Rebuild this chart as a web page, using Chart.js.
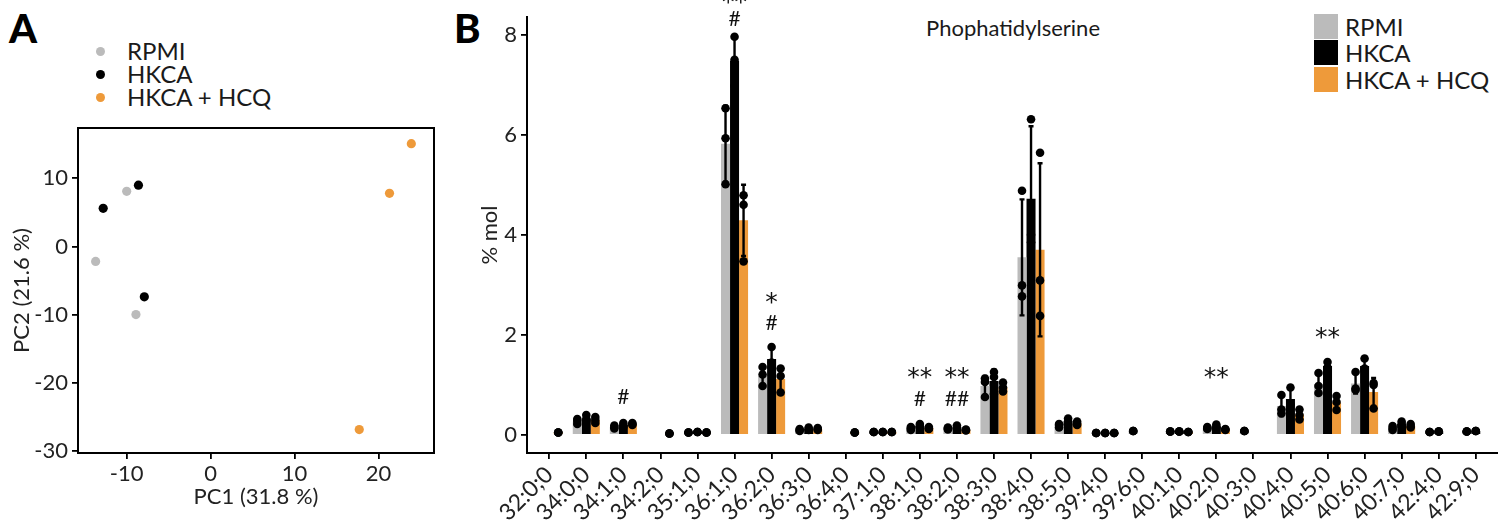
<!DOCTYPE html>
<html><head><meta charset="utf-8">
<script src="https://cdn.jsdelivr.net/npm/chart.js@4.4.0/dist/chart.umd.min.js"></script>
<style>
html,body{margin:0;padding:0}
body{width:1498px;height:522px;background:#fff;overflow:hidden;position:relative;font-family:Lato,"DejaVu Sans",sans-serif;color:#1a1a1a}
.abs{position:absolute}
.panel{font-weight:900;font-size:40px;line-height:40px;color:#000}
.leg{font-size:24px;line-height:24px;white-space:nowrap}
.dot{position:absolute;width:9px;height:9px;border-radius:50%}
.sq{position:absolute;width:24px;height:25px}
</style></head><body>
<div class="abs panel" style="left:9px;top:8px">A</div>
<div class="abs panel" style="left:454px;top:8px">B</div>

<div id="legA"></div>
<div id="legB"></div>
<div class="abs" id="titleB" style="left:913px;width:200px;top:16px;text-align:center;font-size:22px;line-height:24px">Phophatidylserine</div>

<div class="abs" style="left:0;top:0;width:450px;height:522px"><canvas id="pca" width="450" height="522"></canvas></div>
<div class="abs" style="left:450px;top:0;width:1048px;height:522px"><canvas id="bars" width="1048" height="522"></canvas></div>

<script>
// ---------- data ----------
const groups = ['RPMI', 'HKCA', 'HKCA + HCQ'];
const groupColors = ['#bbbbbb', '#000000', '#ee9a3a'];

// Panel A: PCA scores
const rpmiPC1 = [-10.0, -13.7, -8.9];
const rpmiPC2 = [8.1, -2.2, -10.0];
const hkcaPC1 = [-8.6, -12.8, -7.9];
const hkcaPC2 = [9.0, 5.6, -7.4];
const hcqPC1 = [23.9, 21.3, 17.7];
const hcqPC2 = [15.1, 7.8, -26.9];
const pc1Ticks = [-10, 0, 10, 20];
const pc2Ticks = [-30, -20, -10, 0, 10];

// Panel B: phosphatidylserine species (% mol)
const lipidClasses = ['32:0;0','34:0;0','34:1;0','34:2;0','35:1;0','36:1;0','36:2;0','36:3;0','36:4;0','37:1;0','38:1;0','38:2;0','38:3;0','38:4;0','38:5;0','39:4;0','39:6;0','40:1;0','40:2;0','40:3;0','40:4;0','40:5;0','40:6;0','40:7;0','42:4;0','42:9;0'];
const molTicks = [0, 2, 4, 6, 8];

const rpmiMean = [null,0.27,0.16,null,0.05,5.82,1.18,0.10,null,0.06,0.13,0.13,0.98,3.55,0.19,0.04,0.08,0.07,0.14,0.08,0.58,1.02,1.03,0.14,0.06,0.07];
const rpmiSd   = [null,0.05,0.03,null,0.005,0.76,0.19,0.02,null,0.005,0.03,0.02,0.20,1.16,0.03,0.005,0.005,0.005,0.02,0.005,0.20,0.20,0.20,0.04,0.005,0.005];
const rpmiPoints = [[],[0.22,0.28,0.32],[0.13,0.16,0.19],[],[0.05,0.05,0.05],[6.53,5.93,5.01],[1.36,1.21,0.98],[0.08,0.10,0.12],[],[0.06,0.06,0.06],[0.10,0.13,0.16],[0.11,0.13,0.15],[1.13,1.06,0.76],[4.88,2.99,2.77],[0.15,0.20,0.22],[0.04,0.04,0.04],[0.08,0.08,0.08],[0.07,0.07,0.07],[0.12,0.14,0.16],[0.08,0.08,0.08],[0.80,0.51,0.43],[1.24,0.98,0.84],[1.26,0.93,0.90],[0.10,0.14,0.18],[0.06,0.06,0.06],[0.07,0.07,0.07]];

const hkcaMean = [null,0.33,0.20,null,0.06,7.48,1.52,0.12,null,0.06,0.18,0.15,1.08,4.72,0.27,0.04,null,0.07,0.17,null,0.72,1.38,1.38,0.22,0.07,0.08];
const hkcaSd   = [null,0.06,0.04,null,0.005,0.49,0.21,0.02,null,0.005,0.035,0.035,0.23,1.45,0.06,0.005,null,0.005,0.035,null,0.20,0.07,0.13,0.045,0.005,0.005];
const hkcaPoints = [[],[0.28,0.32,0.40],[0.16,0.20,0.24],[],[0.06,0.06,0.06],[7.96,7.50,6.98],[1.76,1.45,1.35],[0.10,0.12,0.15],[],[0.06,0.06,0.06],[0.15,0.18,0.22],[0.12,0.15,0.19],[1.26,1.16,0.82],[6.31,4.00,3.85],[0.21,0.27,0.33],[0.04,0.04,0.04],[],[0.07,0.07,0.07],[0.14,0.17,0.21],[],[0.95,0.62,0.60],[1.46,1.35,1.33],[1.53,1.33,1.28],[0.18,0.22,0.27],[0.07,0.07,0.07],[0.08,0.08,0.08]];

const hcqMean = [0.05,0.30,0.22,0.03,0.05,4.29,1.12,0.12,0.05,0.06,0.14,0.10,0.95,3.70,0.23,0.04,null,0.06,0.11,null,0.41,0.65,0.86,0.18,null,null];
const hcqSd   = [0.005,0.06,0.02,0.005,0.005,0.71,0.24,0.02,0.005,0.005,0.02,0.01,0.09,1.73,0.035,0.005,null,0.005,0.01,null,0.10,0.14,0.28,0.035,null,null];
const hcqPoints = [[0.05,0.05,0.05],[0.24,0.30,0.36],[0.20,0.22,0.24],[0.03,0.03,0.03],[0.05,0.05,0.05],[4.79,4.60,3.47],[1.33,1.18,0.85],[0.10,0.12,0.14],[0.05,0.05,0.05],[0.06,0.06,0.06],[0.12,0.13,0.16],[0.09,0.10,0.11],[1.05,0.95,0.87],[5.64,3.09,2.38],[0.20,0.23,0.27],[0.04,0.04,0.04],[],[0.06,0.06,0.06],[0.10,0.11,0.12],[],[0.51,0.40,0.31],[0.78,0.66,0.50],[1.04,1.00,0.53],[0.15,0.18,0.22],[],[]];

// significance marks: category, text, level (% mol) at which the mark sits
const sigMarks = [
  ['34:1;0', '#', 0.76],
  ['36:1;0', '#', 8.33], ['36:1;0', '**', 8.73],
  ['36:2;0', '#', 2.25], ['36:2;0', '*', 2.73],
  ['38:1;0', '#', 0.72], ['38:1;0', '**', 1.235],
  ['38:2;0', '##', 0.72], ['38:2;0', '**', 1.235],
  ['40:2;0', '**', 1.235],
  ['40:5;0', '**', 2.03]
];

// ---------- HTML legends ----------
(function(){
  const a = document.getElementById('legA');
  const rowsA = [51, 74, 97];
  groups.forEach((g, i) => {
    const d = document.createElement('div'); d.className = 'dot';
    d.style.left = '95.5px'; d.style.top = (rowsA[i] - 4.5) + 'px'; d.style.background = groupColors[i];
    a.appendChild(d);
    const t = document.createElement('div'); t.className = 'abs leg';
    t.style.left = '127px'; t.style.top = (rowsA[i] - 12) + 'px'; t.textContent = g;
    a.appendChild(t);
  });
  const b = document.getElementById('legB');
  const rowsB = [14, 40, 67];
  groups.forEach((g, i) => {
    const s = document.createElement('div'); s.className = 'sq';
    s.style.left = '1314px'; s.style.top = rowsB[i] + 'px'; s.style.background = groupColors[i];
    b.appendChild(s);
    const t = document.createElement('div'); t.className = 'abs leg';
    t.style.left = '1345px'; t.style.top = (rowsB[i] + 0.5) + 'px'; t.textContent = g;
    b.appendChild(t);
  });
})();

// ---------- common ----------
const FONT = 'Lato';
const TXT = '#222222';
Chart.defaults.font.family = FONT;
Chart.defaults.color = TXT;
Chart.defaults.animation = false;

const frame = {
  id: 'frame',
  afterDraw(chart) {
    const {ctx, chartArea: a} = chart;
    ctx.save();
    ctx.strokeStyle = '#000'; ctx.lineWidth = 2;
    ctx.strokeRect(a.left, a.top, a.right - a.left, a.bottom - a.top);
    ctx.restore();
  }
};

function toXY(xs, ys) { return xs.map((x, i) => ({x, y: ys[i]})); }

new Chart(document.getElementById('pca'), {
  type: 'scatter',
  data: {
    datasets: [
      {label: groups[0], data: toXY(rpmiPC1, rpmiPC2), backgroundColor: groupColors[0]},
      {label: groups[1], data: toXY(hkcaPC1, hkcaPC2), backgroundColor: groupColors[1]},
      {label: groups[2], data: toXY(hcqPC1, hcqPC2), backgroundColor: groupColors[2]}
    ]
  },
  options: {
    responsive: false, devicePixelRatio: 1,
    layout: {padding: {top: 128, right: 16, left: 0, bottom: 0}},
    elements: {point: {radius: 4.6, borderWidth: 0, hoverRadius: 4.6}},
    plugins: {legend: {display: false}, tooltip: {enabled: false}},
    scales: {
      x: {
        type: 'linear', min: -15.8, max: 26.6,
        afterBuildTicks: s => { s.ticks = pc1Ticks.map(v => ({value: v})); },
        afterFit: s => { s.height = 69; },
        grid: {drawOnChartArea: false, drawTicks: true, tickLength: 6, color: '#000', lineWidth: 1.8},
        border: {display: true, color: '#000', width: 2},
        ticks: {font: {size: 22}, padding: 2, color: TXT, maxRotation: 0},
        title: {display: true, text: 'PC1 (31.8 %)', font: {size: 22}, color: TXT, padding: {top: 0, bottom: 12}}
      },
      y: {
        type: 'linear', min: -30.34, max: 17.4,
        afterBuildTicks: s => { s.ticks = pc2Ticks.map(v => ({value: v})); },
        afterFit: s => { s.width = 78; },
        grid: {drawOnChartArea: false, drawTicks: true, tickLength: 6, color: '#000', lineWidth: 1.8},
        border: {display: true, color: '#000', width: 2},
        ticks: {font: {size: 22}, padding: 4, color: TXT},
        title: {display: true, text: 'PC2 (21.6 %)', font: {size: 22}, color: TXT, padding: {top: 9, bottom: 0}}
      }
    }
  },
  plugins: [frame]
});

// ---------- panel B ----------
const means = [rpmiMean, hkcaMean, hcqMean];
const sds = [rpmiSd, hkcaSd, hcqSd];
const pts = [rpmiPoints, hkcaPoints, hcqPoints];

const overlay = {
  id: 'overlay',
  afterDatasetsDraw(chart) {
    const {ctx} = chart;
    const y = chart.scales.y;
    ctx.save();
    // error bars
    means.forEach((arr, di) => {
      const meta = chart.getDatasetMeta(di);
      arr.forEach((m, i) => {
        if (m == null) return;
        const bx = meta.data[i].x;
        const sd = sds[di][i] || 0;
        const yt = y.getPixelForValue(m + sd), yb = y.getPixelForValue(m - sd);
        ctx.strokeStyle = '#000'; ctx.lineWidth = 2.4;
        ctx.beginPath();
        ctx.moveTo(bx, yt); ctx.lineTo(bx, yb);
        ctx.moveTo(bx - 2.5, yt); ctx.lineTo(bx + 2.5, yt);
        ctx.moveTo(bx - 2.5, yb); ctx.lineTo(bx + 2.5, yb);
        ctx.stroke();
      });
    });
    // individual points
    ctx.fillStyle = '#000';
    pts.forEach((arr, di) => {
      const meta = chart.getDatasetMeta(di);
      arr.forEach((list, i) => {
        if (!list.length) return;
        const bx = meta.data[i].x;
        list.forEach(v => {
          ctx.beginPath();
          ctx.arc(bx, y.getPixelForValue(v), 4.3, 0, Math.PI * 2);
          ctx.fill();
        });
      });
    });
    ctx.restore();
  },
  afterDraw(chart) {
    const {ctx} = chart;
    const y = chart.scales.y, x = chart.scales.x;
    ctx.save();
    ctx.fillStyle = '#111';
    ctx.textAlign = 'center';
    ctx.textBaseline = 'alphabetic';
    sigMarks.forEach(([cat, txt, lvl]) => {
      const i = lipidClasses.indexOf(cat);
      const px = x.getPixelForValue(i);
      const isStar = txt.indexOf('*') >= 0;
      ctx.font = isStar ? '25px "DejaVu Sans"' : '21px ' + FONT;
      const m = ctx.measureText(txt);
      const yc = y.getPixelForValue(lvl);
      const base = yc + (m.actualBoundingBoxAscent - m.actualBoundingBoxDescent) / 2;
      ctx.fillText(txt, px, base);
    });
    ctx.restore();
  }
};

new Chart(document.getElementById('bars'), {
  type: 'bar',
  data: {
    datasets: groups.map((g, di) => ({
      label: g,
      data: lipidClasses.map((c, i) => ({x: i, y: means[di][i]})),
      backgroundColor: groupColors[di],
      borderWidth: 0,
      categoryPercentage: 0.73,
      barPercentage: 1.0
    }))
  },
  options: {
    responsive: false, devicePixelRatio: 1,
    layout: {padding: {top: 16, right: 0, left: 0, bottom: 0}},
    plugins: {legend: {display: false}, tooltip: {enabled: false}},
    scales: {
      x: {
        type: 'linear', min: -0.6, max: 25.6, offset: false,
        afterBuildTicks: s => { s.ticks = lipidClasses.map((c, i) => ({value: i})); },
        afterFit: s => { s.height = 69; },
        grid: {drawOnChartArea: false, drawTicks: true, tickLength: 6, color: '#000', lineWidth: 1.8, offset: false},
        border: {display: true, color: '#000', width: 2},
        ticks: {font: {size: 23}, padding: 2, color: TXT, autoSkip: false, minRotation: 45, maxRotation: 45,
                callback: v => lipidClasses[v]}
      },
      y: {
        type: 'linear', min: -0.36, max: 8.35,
        afterBuildTicks: s => { s.ticks = molTicks.map(v => ({value: v})); },
        afterFit: s => { s.width = 77; },
        grid: {drawOnChartArea: false, drawTicks: true, tickLength: 6, color: '#000', lineWidth: 1.8},
        border: {display: true, color: '#000', width: 2},
        ticks: {font: {size: 22}, padding: 4, color: TXT},
        title: {display: true, text: '% mol', font: {size: 22}, color: TXT, padding: {top: 27, bottom: 0}}
      }
    }
  },
  plugins: [overlay]
});
</script>
</body></html>
